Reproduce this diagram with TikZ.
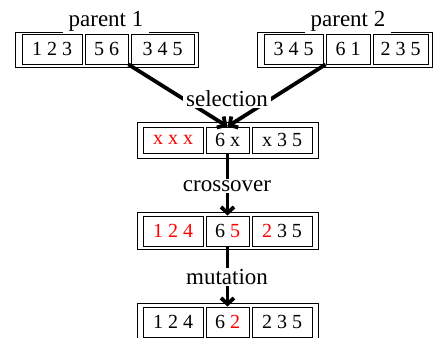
\documentclass[tikz,border=0pt]{standalone}
\usepackage{fontspec}
\setmainfont{Liberation Serif}
\usetikzlibrary{arrows.meta}
\begin{document}
\begin{tikzpicture}[x=1pt,y=-1pt,
  cell/.style={draw,line width=0.9pt,inner sep=0pt,minimum height=30pt,
    font=\fontsize{20}{20}\selectfont},
  frame/.style={draw,line width=0.9pt},
  oplabel/.style={fill=white,inner xsep=3pt,inner ysep=1pt,
    font=\fontsize{23}{23}\selectfont},
  plabel/.style={fill=white,inner xsep=6pt,inner ysep=3pt,
    font=\fontsize{23}{23}\selectfont},
  flow/.style={line width=3.8pt,-{Straight Barb[length=6pt,width=13pt]}},
]
\useasboundingbox (0,0) rectangle (435,337);

% parent 1
\draw[frame] (15,32) rectangle (198,67);
\node[cell,minimum width=60pt] (a1) at (52,49)    {1 2 3};
\node[cell,minimum width=43pt] (a2) at (106.5,49) {5 6};
\node[cell,minimum width=63pt] (a3) at (162.5,49) {3 4 5};

% parent 2
\draw[frame] (257,32) rectangle (432,67);
\node[cell,minimum width=59pt] (b1) at (293.5,49) {3 4 5};
\node[cell,minimum width=44pt] (b2) at (348,49)   {6 1};
\node[cell,minimum width=55pt] (b3) at (400.5,49) {2 3 5};

% after selection
\draw[frame] (137,122) rectangle (318,158);
\node[cell,minimum width=60pt,minimum height=26pt] (s1) at (173,140)   {\color{red}x x x};
\node[cell,minimum width=43pt,minimum height=26pt] (s2) at (227.5,140) {6 x};
\node[cell,minimum width=60pt,minimum height=26pt] (s3) at (282,140)   {x 3 5};

% after crossover
\draw[frame] (137,212) rectangle (318,249);
\node[cell,minimum width=60pt] (c1) at (173,231)   {\color{red}1 2 4};
\node[cell,minimum width=43pt] (c2) at (227.5,231) {6 \textcolor{red}{5}};
\node[cell,minimum width=60pt] (c3) at (282,231)   {\textcolor{red}{2} 3 5};

% after mutation
\draw[frame] (137,303) rectangle (318,341);
\node[cell,minimum width=60pt] (m1) at (173,322)   {1 2 4};
\node[cell,minimum width=43pt] (m2) at (227.5,322) {6 \textcolor{red}{2}};
\node[cell,minimum width=60pt] (m3) at (282,322)   {2 3 5};

% flow of the operators
\draw[flow] (a2.south east) -- (s2.north);
\draw[flow] (b2.south west) -- (s2.north);
\draw[flow] (s2.south) -- (c2.north);
\draw[flow] (c2.south) -- (m2.north);

% labels on top of the lines
\node[plabel] (p1) at (106,21) {parent 1};
\node[plabel] (p2) at (348,21) {parent 2};
\node[oplabel] (sel) at (227,99)  {selection};
\node[oplabel] (xo)  at (227,186) {crossover};
\node[oplabel] (mu)  at (227,277) {mutation};
\end{tikzpicture}
\end{document}
